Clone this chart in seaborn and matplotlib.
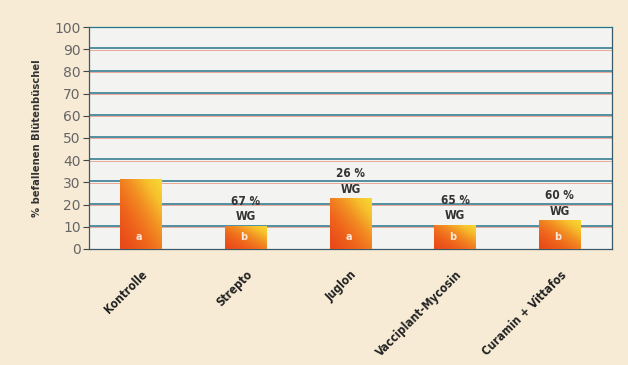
import numpy as np
import pandas as pd
import matplotlib
matplotlib.use("Agg")
import matplotlib.pyplot as plt
import seaborn as sns
from matplotlib.colors import LinearSegmentedColormap

categories = ["Kontrolle", "Strepto", "Juglon", "Vacciplant-Mycosin", "Curamin + Vittafos"]
values = [31.5, 10.5, 23.0, 11.0, 13.0]
letters = ["a", "b", "a", "b", "b"]
efficacy = ["", "67 %\nWG", "26 %\nWG", "65 %\nWG", "60 %\nWG"]
yticks = list(range(0, 101, 10))

sns.set_theme(style="white")
plt.rcParams['font.family'] = ['DejaVu Sans']

fig = plt.figure(figsize=(6.28, 3.65), dpi=100)
fig.patch.set_facecolor("#f7ebd5")
ax = fig.add_axes([0.1417, 0.318, 0.833, 0.608])
ax.set_facecolor("#f3f3f1")

df = pd.DataFrame({"cat": categories, "val": values})
sns.barplot(data=df, x="cat", y="val", ax=ax, width=0.4, color="#f08020", zorder=3, saturation=1)

ax.set_ylim(0, 100)
ax.set_xlim(-0.5, len(categories) - 0.5)
ax.set_yticks(yticks)
for y in yticks[1:]:
    ax.axhline(y - 0.2, color="#eaa898", lw=0.7, zorder=1)
    ax.axhline(y + 0.4, color="#24758c", lw=1.1, zorder=1.1)

# gradient fill clipped to bars
cmap = LinearSegmentedColormap.from_list("og", ["#e84818", "#ef661c", "#f28e22", "#f6c02c", "#f8da36"])
grad2 = (np.linspace(0, 1, 64)[:, None] * 0.5 + np.linspace(0, 1, 256)[None, :] * 0.5) ** 1.3
for p in ax.patches:
    x0, y0 = p.get_x(), p.get_y()
    w, h = p.get_width(), p.get_height()
    im = ax.imshow(grad2, cmap=cmap, aspect="auto", origin="lower",
                   extent=[x0, x0 + w, y0, y0 + h], zorder=3.5, vmin=0, vmax=1)
    im.set_clip_path(p)
    p.set_edgecolor("none")
ax.set_xlim(-0.5, len(categories) - 0.5)
ax.set_ylim(0, 100)

for i, (v, l, e) in enumerate(zip(values, letters, efficacy)):
    ax.text(i - 0.02, 5.5, l, ha="center", va="center", color="white", fontsize=7,
            fontweight="bold", zorder=5, alpha=0.85)
    if e:
        ax.text(i, v + 1.0, e, ha="center", va="bottom", color="#333333",
                fontsize=8.5, fontweight="bold", fontstretch="condensed",
                linespacing=1.25, zorder=5)

ax.set_xticks(np.arange(-0.5, len(categories) + 0.5, 1), minor=True)
ax.set_xticks(np.arange(len(categories)))
ax.set_xticklabels(categories, rotation=45, ha="right", rotation_mode="anchor",
                   fontsize=8.5, fontweight="bold", color="#222222", fontstretch="condensed")
ax.tick_params(axis="x", which="major", length=0, pad=14)
ax.tick_params(axis="x", which="minor", length=4, width=0.8, color="#444444", direction="out")
ax.tick_params(axis="y", length=4, width=0.8, color="#444444", direction="out",
               labelsize=10, labelcolor="#666666", pad=2, left=True)
ax.set_xlabel("")
ax.set_ylabel("% befallenen Blütenbüschel", fontsize=8, fontweight="bold",
              color="#333333", labelpad=9, fontstretch="condensed")

for s in ["left", "bottom", "right", "top"]:
    ax.spines[s].set_visible(True)
    ax.spines[s].set_color("#3a5a6a")
    ax.spines[s].set_linewidth(0.9)
ax.spines["top"].set_color("#24758c")

fig.savefig("out.png", dpi=100, facecolor=fig.get_facecolor())
